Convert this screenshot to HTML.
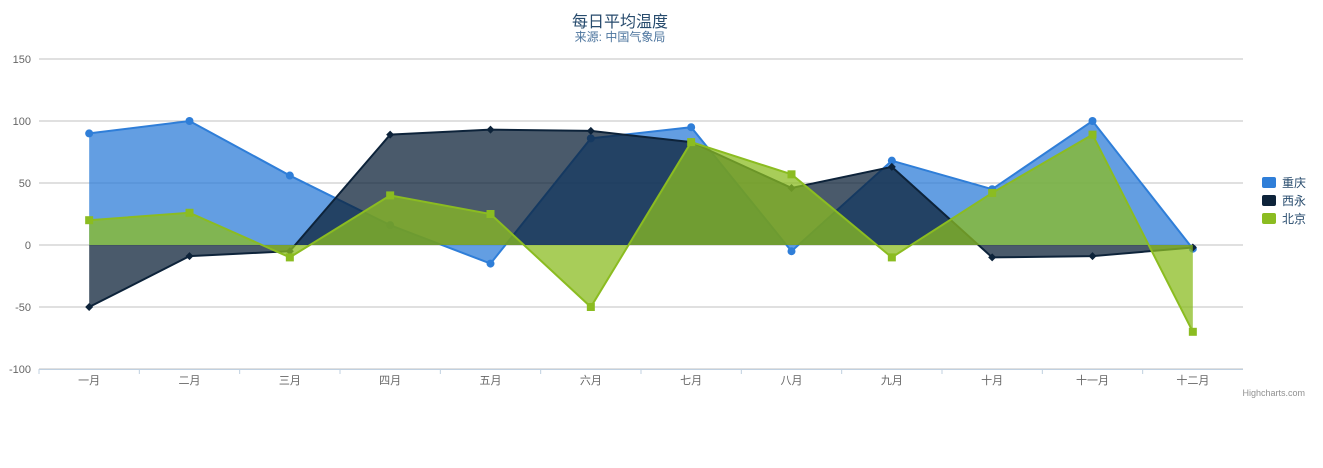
<!DOCTYPE html>
<html><head><meta charset="utf-8"><style>
body{margin:0;background:#fff;font-family:"Liberation Sans","Noto Sans CJK SC",sans-serif;}
svg text{font-family:"Liberation Sans","Noto Sans CJK SC",sans-serif;}
</style></head><body>
<svg id="chart" width="1323" height="463">
<text x="620" y="27" text-anchor="middle" font-size="16" fill="#274b6d">每日平均温度</text>
<text x="620" y="41" text-anchor="middle" font-size="12" fill="#4d759e">来源: 中国气象局</text>
<g id="grid"></g><g id="series"></g><g id="axes"></g>
<g>
<rect x="1262" y="177" width="14" height="11" rx="2" fill="#2f7ed8"/>
<text x="1282" y="187" font-size="12" fill="#274b6d">重庆</text>
<rect x="1262" y="195" width="14" height="11" rx="2" fill="#0d233a"/>
<text x="1282" y="205" font-size="12" fill="#274b6d">西永</text>
<rect x="1262" y="213" width="14" height="11" rx="2" fill="#8bbc21"/>
<text x="1282" y="223" font-size="12" fill="#274b6d">北京</text>
</g>
<text x="1305" y="396" text-anchor="end" font-size="9" fill="#909090">Highcharts.com</text>
</svg>
<script>
const categories=['一月','二月','三月','四月','五月','六月','七月','八月','九月','十月','十一月','十二月'];
const yTicks=[150,100,50,0,-50,-100];
const chongqing=[90,100,56,16,-15,86,95,-5,68,45,100,-3];
const xiyong=[-50,-9,-5,89,93,92,83,46,63,-10,-9,-2];
const beijing=[20,26,-10,40,25,-50,83,57,-10,42,89,-70];
const NS='http://www.w3.org/2000/svg';
const L=39,R=1243,T=59,B=369,yMin=-100,yMax=150;
const bw=(R-L)/categories.length;
const xs=i=>L+bw*(i+0.5);
const ys=v=>B-(v-yMin)/(yMax-yMin)*(B-T);
function mk(tag,attrs,parent){const e=document.createElementNS(NS,tag);for(const k in attrs)e.setAttribute(k,attrs[k]);parent.appendChild(e);return e;}
const grid=document.getElementById('grid'),axes=document.getElementById('axes'),ser=document.getElementById('series');
yTicks.forEach(t=>{
 const l=mk('line',{x1:L,x2:R,y1:ys(t),y2:ys(t),stroke:'#c0c0c0','stroke-width':1},grid);
 
 
 const tx=mk('text',{x:31,y:ys(t)+4,'text-anchor':'end','font-size':11,fill:'#666'},axes);
 tx.textContent=t;
 
 
});
const xl=mk('line',{x1:L,x2:R,y1:B+0.5,y2:B+0.5,stroke:'#c0d0e0'},axes);


categories.forEach((c,i)=>{
 const tk=mk('line',{x1:L+bw*i,x2:L+bw*i,y1:B,y2:B+5,stroke:'#c0d0e0'},axes);
 
 
 const tx=mk('text',{x:xs(i),y:B+15,'text-anchor':'middle','font-size':11,fill:'#666'},axes);
 tx.textContent=c;
 
 
});
const seriesList=[[chongqing,'#2f7ed8','chongqing','circle'],[xiyong,'#0d233a','xiyong','diamond'],[beijing,'#8bbc21','beijing','square']];
seriesList.forEach(([d,col,name,mark])=>{
 const pts=d.map((v,i)=>xs(i)+','+ys(v));
 const area=mk('polygon',{points:xs(0)+','+ys(0)+' '+pts.join(' ')+' '+xs(d.length-1)+','+ys(0),fill:col,'fill-opacity':0.75},ser);
 
 
 const ln=mk('polyline',{points:pts.join(' '),fill:'none',stroke:col,'stroke-width':2},ser);
 
 
 d.forEach((v,i)=>{
  const x=xs(i),y=ys(v);let m;
  if(mark==='circle')m=mk('circle',{cx:x,cy:y,r:4,fill:col},ser);
  else if(mark==='square')m=mk('rect',{x:x-4,y:y-4,width:8,height:8,fill:col},ser);
  else m=mk('polygon',{points:`${x},${y-4} ${x+4},${y} ${x},${y+4} ${x-4},${y}`,fill:col},ser);
  
  
 });
});
</script>
</body></html>
